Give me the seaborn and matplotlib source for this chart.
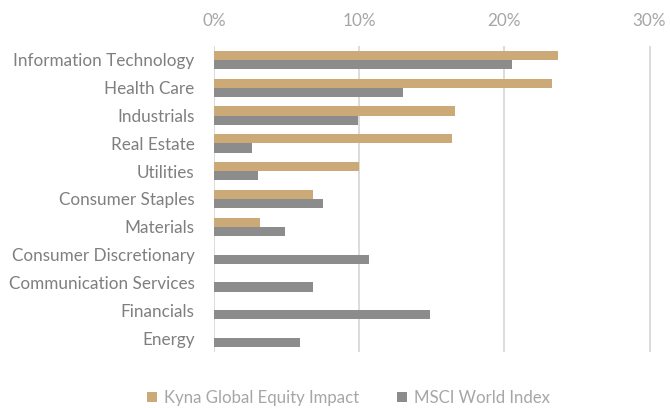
import matplotlib
matplotlib.use("Agg")
import matplotlib.pyplot as plt
import seaborn as sns
import pandas as pd
from matplotlib.ticker import PercentFormatter
from matplotlib.patches import Patch

categories = ["Information Technology", "Health Care", "Industrials", "Real Estate",
              "Utilities", "Consumer Staples", "Materials", "Consumer Discretionary",
              "Communication Services", "Financials", "Energy"]
kyna = [23.7, 23.3, 16.6, 16.4, 10.0, 6.85, 3.2, 0, 0, 0, 0]
msci = [20.5, 13.0, 9.9, 2.6, 3.0, 7.5, 4.9, 10.65, 6.8, 14.9, 5.9]
series_names = ["Kyna Global Equity Impact", "MSCI World Index"]
colors = ["#CBAA77", "#8C8C8C"]
xticks = [0, 10, 20, 30]

df = pd.DataFrame({
    "Sector": categories * 2,
    "Weight": kyna + msci,
    "Series": [series_names[0]] * len(categories) + [series_names[1]] * len(categories),
})

sns.set_theme(style="white")
plt.rcParams["font.family"] = ["Lato", "DejaVu Sans"]

fig = plt.figure(figsize=(6.70, 4.08), dpi=100)
ax = fig.add_axes([214 / 670, 1 - 352 / 408, (651 - 214) / 670, (352 - 46) / 408])

sns.barplot(data=df, y="Sector", x="Weight", hue="Series", order=categories,
            hue_order=series_names, palette=colors, width=0.66, linewidth=0,
            saturation=1, orient="h", ax=ax, legend=False)

ax.set_xlim(0, 30.1)
ax.set_xticks(xticks)
ax.xaxis.set_major_formatter(PercentFormatter(decimals=0))
ax.xaxis.tick_top()
ax.set_xlabel("")
ax.set_ylabel("")
for s in ax.spines.values():
    s.set_visible(False)
ax.grid(axis="x", color="#D9D9D9", linewidth=1.3)
ax.set_axisbelow(True)
ax.tick_params(axis="x", length=0, pad=12, labelsize=12.3, labelcolor="#A6A6A6")
ax.tick_params(axis="y", length=0, pad=14, labelsize=12.3, labelcolor="#7F7F7F")

handles = [Patch(facecolor=c, edgecolor="none") for c in colors]
fig.legend(handles, series_names, loc="center", bbox_to_anchor=(0.52, 1 - 398 / 408),
           ncol=2, frameon=False, fontsize=12.1, labelcolor="#A6A6A6",
           handlelength=0.6, handleheight=0.6, handletextpad=0.4, columnspacing=2.3)

fig.savefig("out.png", dpi=100)
